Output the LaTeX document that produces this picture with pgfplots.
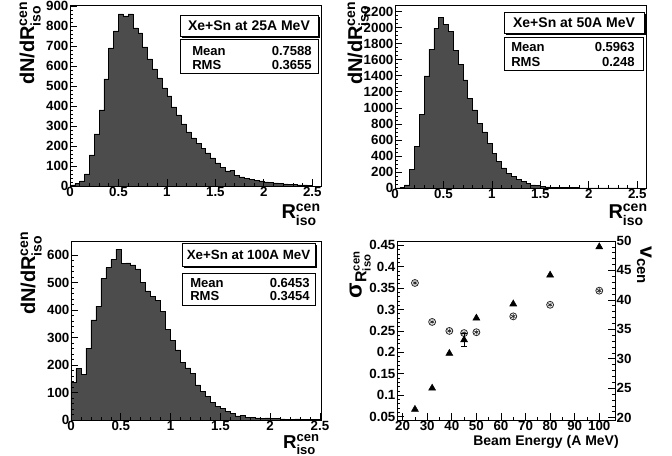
\documentclass[border=0pt]{standalone}
\usepackage{pgfplots}
\pgfplotsset{compat=1.18}
\usepackage{pgfplotstable}
\usepackage{amsmath}
\usepackage{fontspec}
\setmainfont{Liberation Sans}
\definecolor{histfill}{gray}{0.30}

\pgfplotstableread{
x y
0.00 5
0.05 12
0.10 25
0.15 60
0.20 155
0.25 260
0.30 380
0.35 535
0.40 690
0.45 775
0.50 860
0.55 850
0.60 860
0.65 790
0.70 765
0.75 695
0.80 635
0.85 585
0.90 540
0.95 490
1.00 450
1.05 395
1.10 355
1.15 310
1.20 270
1.25 240
1.30 212
1.35 188
1.40 165
1.45 140
1.50 115
1.55 92
1.60 75
1.65 78
1.70 52
1.75 45
1.80 38
1.85 32
1.90 28
1.95 25
2.00 20
2.05 18
2.10 15
2.15 12
2.20 10
2.25 8
2.30 7
2.35 6
2.40 5
2.45 3
2.50 3
}\histA

\pgfplotstableread{
x y
0.00 0
0.05 8
0.10 40
0.15 230
0.20 520
0.25 920
0.30 1400
0.35 1730
0.40 1990
0.45 2130
0.50 2040
0.55 1950
0.60 1720
0.65 1540
0.70 1350
0.75 1120
0.80 975
0.85 810
0.90 700
0.95 560
1.00 435
1.05 335
1.10 250
1.15 185
1.20 145
1.25 110
1.30 80
1.35 55
1.40 40
1.45 30
1.50 22
1.55 15
1.60 12
1.65 9
1.70 7
1.75 5
1.80 4
1.85 3
1.90 2
1.95 2
2.00 1
2.05 1
2.10 1
2.15 1
2.20 0
2.25 1
2.30 0
2.35 0
2.40 0
2.45 0
2.50 0
}\histB

\pgfplotstableread{
x y
0.00 138
0.05 187
0.10 165
0.15 262
0.20 365
0.25 415
0.30 515
0.35 555
0.40 585
0.45 622
0.50 570
0.55 572
0.60 565
0.65 550
0.70 500
0.75 470
0.80 450
0.85 435
0.90 395
0.95 330
1.00 290
1.05 255
1.10 210
1.15 190
1.20 170
1.25 128
1.30 105
1.35 85
1.40 65
1.45 50
1.50 42
1.55 32
1.60 25
1.65 15
1.70 18
1.75 10
1.80 9
1.85 8
1.90 7
1.95 8
2.00 5
2.05 5
2.10 4
2.15 3
2.20 3
2.25 4
2.30 2
2.35 3
2.40 2
2.45 3
2.50 3
}\histC

\pgfplotstableread{
x y
25 0.362
32 0.271
39 0.250
45 0.245
50 0.247
65 0.284
80 0.311
100 0.344
}\sigmadata

\pgfplotstableread{
x y
25 21.4
32 25.0
39 30.9
50 36.9
65 39.3
80 44.2
100 49.0
}\vdata

\pgfplotsset{
  rootaxis/.style={
    scale only axis,
    axis on top,
    tick align=inside,
    xtick pos=left, ytick pos=left,
    major tick length=5pt,
    minor tick length=2.5pt,
    every tick/.style={black, line width=0.5pt},
    axis line style={line width=0.7pt},
    tick label style={font=\bfseries\fontsize{10}{10}\selectfont, inner sep=1pt},
    /pgf/number format/assume math mode=true,
    /pgf/number format/1000 sep={},
    scaled ticks=false,
  },
  histo/.style={rootaxis, xmin=0, ymin=0,
    xtick={0,0.5,1,1.5,2,2.5}, xticklabels={0,0.5,1,1.5,2,2.5},
    minor x tick num=4},
  hplot/.style={const plot, draw=black, line width=0.4pt, fill=histfill},
}

\newcommand{\tfont}{\bfseries\fontsize{10.5}{11}\selectfont}
\newcommand{\tfontb}{\bfseries\fontsize{10}{11}\selectfont}
\newcommand{\sfont}{\bfseries\fontsize{9.8}{10}\selectfont}
\newcommand{\lfont}{\bfseries\fontsize{15}{15}\selectfont}
\newcommand{\rfont}{\bfseries\fontsize{14}{14}\selectfont}

\begin{document}
\begin{tikzpicture}
\path[use as bounding box] (0,0) rectangle (504pt,342pt);

% Panel 1
\begin{axis}[histo, at={(52.5pt,202.5pt)}, anchor=south west,
  width=188.25pt, height=135.75pt, xmax=2.59, ymax=905,
  ytick={0,100,...,900}, minor y tick num=4]
\addplot[hplot] table[x=x,y=y]{\histA} \closedcycle;
\end{axis}

% Panel 2
\begin{axis}[histo, at={(296.25pt,201pt)}, anchor=south west,
  width=188.25pt, height=137.25pt, xmax=2.59, ymax=2283,
  ytick={0,200,...,2200}, minor y tick num=3]
\addplot[hplot] table[x=x,y=y]{\histB} \closedcycle;
\end{axis}

% Panel 3
\begin{axis}[histo, at={(53.25pt,27pt)}, anchor=south west,
  width=187.5pt, height=134.25pt, xmax=2.51, ymax=652,
  ytick={0,100,...,600}, minor y tick num=4]
\addplot[hplot] table[x=x,y=y]{\histC} \closedcycle;
\end{axis}

% Panel 4 left axis
\begin{axis}[rootaxis, at={(297.75pt,27pt)}, anchor=south west,
  width=163.5pt, height=134.25pt,
  xmin=17.7, xmax=106.4, ymin=0.042, ymax=0.46,
  xtick={20,30,40,50,60,70,80,90,100}, minor x tick num=1,
  ytick={0.05,0.1,0.15,0.2,0.25,0.3,0.35,0.4,0.45},
  yticklabels={0.05,0.1,0.15,0.2,0.25,0.3,0.35,0.4,0.45},
  minor y tick num=4]
\addplot[only marks, mark=o, mark size=2.6pt, black!85, mark options={line width=0.6pt}] table[x=x,y=y]{\sigmadata};
\addplot[only marks, mark=asterisk, mark size=1.9pt, black!85, mark options={line width=0.5pt}] table[x=x,y=y]{\sigmadata};
\end{axis}

% Panel 4 right axis
\begin{axis}[rootaxis, at={(297.75pt,27pt)}, anchor=south west,
  width=163.5pt, height=134.25pt,
  xmin=17.7, xmax=106.4, ymin=19.6, ymax=50,
  hide x axis, axis y line*=right, ytick pos=right, yticklabel pos=right,
  ytick={20,25,30,35,40,45,50}, minor y tick num=4]
\addplot[only marks, mark=triangle*, mark size=3pt, black] table[x=x,y=y]{\vdata};
\addplot[only marks, mark=triangle*, mark size=3pt, black,
  error bars/.cd, y dir=both, y explicit, error mark options={rotate=90, mark size=2pt, line width=0.5pt}]
  coordinates {(45,33.2) +- (0,1.1)};
\end{axis}

\begin{scope}[x=0.75pt,y=0.75pt]
% Panel 1 boxes
\fill[black] (182,456-38) rectangle (320,456-17);
\filldraw[fill=white, draw=black, line width=0.6pt] (180,456-36) rectangle (318,456-15);
\node[font=\tfont, inner sep=0] at (249,456-25.5) {Xe+Sn at 25A MeV};
\fill[black] (181,456-74) rectangle (319,456-40);
\filldraw[fill=white, draw=black, line width=0.5pt] (180,456-73) rectangle (318,456-39);
\node[font=\sfont, anchor=west, inner sep=0] at (192,456-51) {Mean};
\node[font=\sfont, anchor=east, inner sep=0] at (312,456-51) {0.7588};
\node[font=\sfont, anchor=west, inner sep=0] at (192,456-65) {RMS};
\node[font=\sfont, anchor=east, inner sep=0] at (312,456-65) {0.3655};

% Panel 2 boxes
\fill[black] (506,456-35) rectangle (646,456-14);
\filldraw[fill=white, draw=black, line width=0.6pt] (504,456-33) rectangle (644,456-12);
\node[font=\tfont, inner sep=0] at (574,456-22.5) {Xe+Sn at 50A MeV};
\fill[black] (505,456-71) rectangle (644,456-38);
\filldraw[fill=white, draw=black, line width=0.5pt] (504,456-70) rectangle (643,456-37);
\node[font=\sfont, anchor=west, inner sep=0] at (511,456-47) {Mean};
\node[font=\sfont, anchor=east, inner sep=0] at (635,456-47) {0.5963};
\node[font=\sfont, anchor=west, inner sep=0] at (511,456-62) {RMS};
\node[font=\sfont, anchor=east, inner sep=0] at (635,456-62) {0.248};

% Panel 3 boxes
\fill[black] (184,456-268) rectangle (317,456-245);
\filldraw[fill=white, draw=black, line width=0.6pt] (182,456-266) rectangle (315,456-243);
\node[font=\tfontb, inner sep=0] at (248.5,456-254.5) {Xe+Sn at 100A MeV};
\fill[black] (183,456-306) rectangle (316,456-274);
\filldraw[fill=white, draw=black, line width=0.5pt] (182,456-305) rectangle (315,456-273);
\node[font=\sfont, anchor=west, inner sep=0] at (190,456-283) {Mean};
\node[font=\sfont, anchor=east, inner sep=0] at (310,456-283) {0.6453};
\node[font=\sfont, anchor=west, inner sep=0] at (190,456-296) {RMS};
\node[font=\sfont, anchor=east, inner sep=0] at (310,456-296) {0.3454};

% axis titles
\node[rotate=90, anchor=south east, inner sep=0, font=\lfont] at (41,455) {dN/dR$^{\text{cen}}_{\text{iso}}$};
\node[anchor=north east, inner sep=0, font=\lfont] at (321,456-204) {R$^{\text{cen}}_{\text{iso}}$};
\node[rotate=90, anchor=south east, inner sep=0, font=\lfont] at (369,455) {dN/dR$^{\text{cen}}_{\text{iso}}$};
\node[anchor=north east, inner sep=0, font=\lfont] at (648,456-204) {R$^{\text{cen}}_{\text{iso}}$};
\node[rotate=90, anchor=south east, inner sep=0, font=\lfont] at (42,456-231) {dN/dR$^{\text{cen}}_{\text{iso}}$};
\node[anchor=south east, inner sep=0, font=\rfont] at (320,1) {R$^{\text{cen}}_{\text{iso}}$};
\node[rotate=90, anchor=south east, inner sep=0, font=\bfseries\fontsize{17}{17}\selectfont] at (371,456-250) {$\text{σ}_{\text{R}^{\text{cen}}_{\text{iso}}}$};
\node[rotate=-90, anchor=north west, inner sep=0, font=\bfseries\fontsize{16}{16}\selectfont] at (652,456-246) {v$_{\text{cen}}$};
\node[anchor=north east, inner sep=0, font=\bfseries\fontsize{10.5}{11}\selectfont] at (619,456-435) {Beam Energy (A MeV)};
\end{scope}
\end{tikzpicture}
\end{document}
